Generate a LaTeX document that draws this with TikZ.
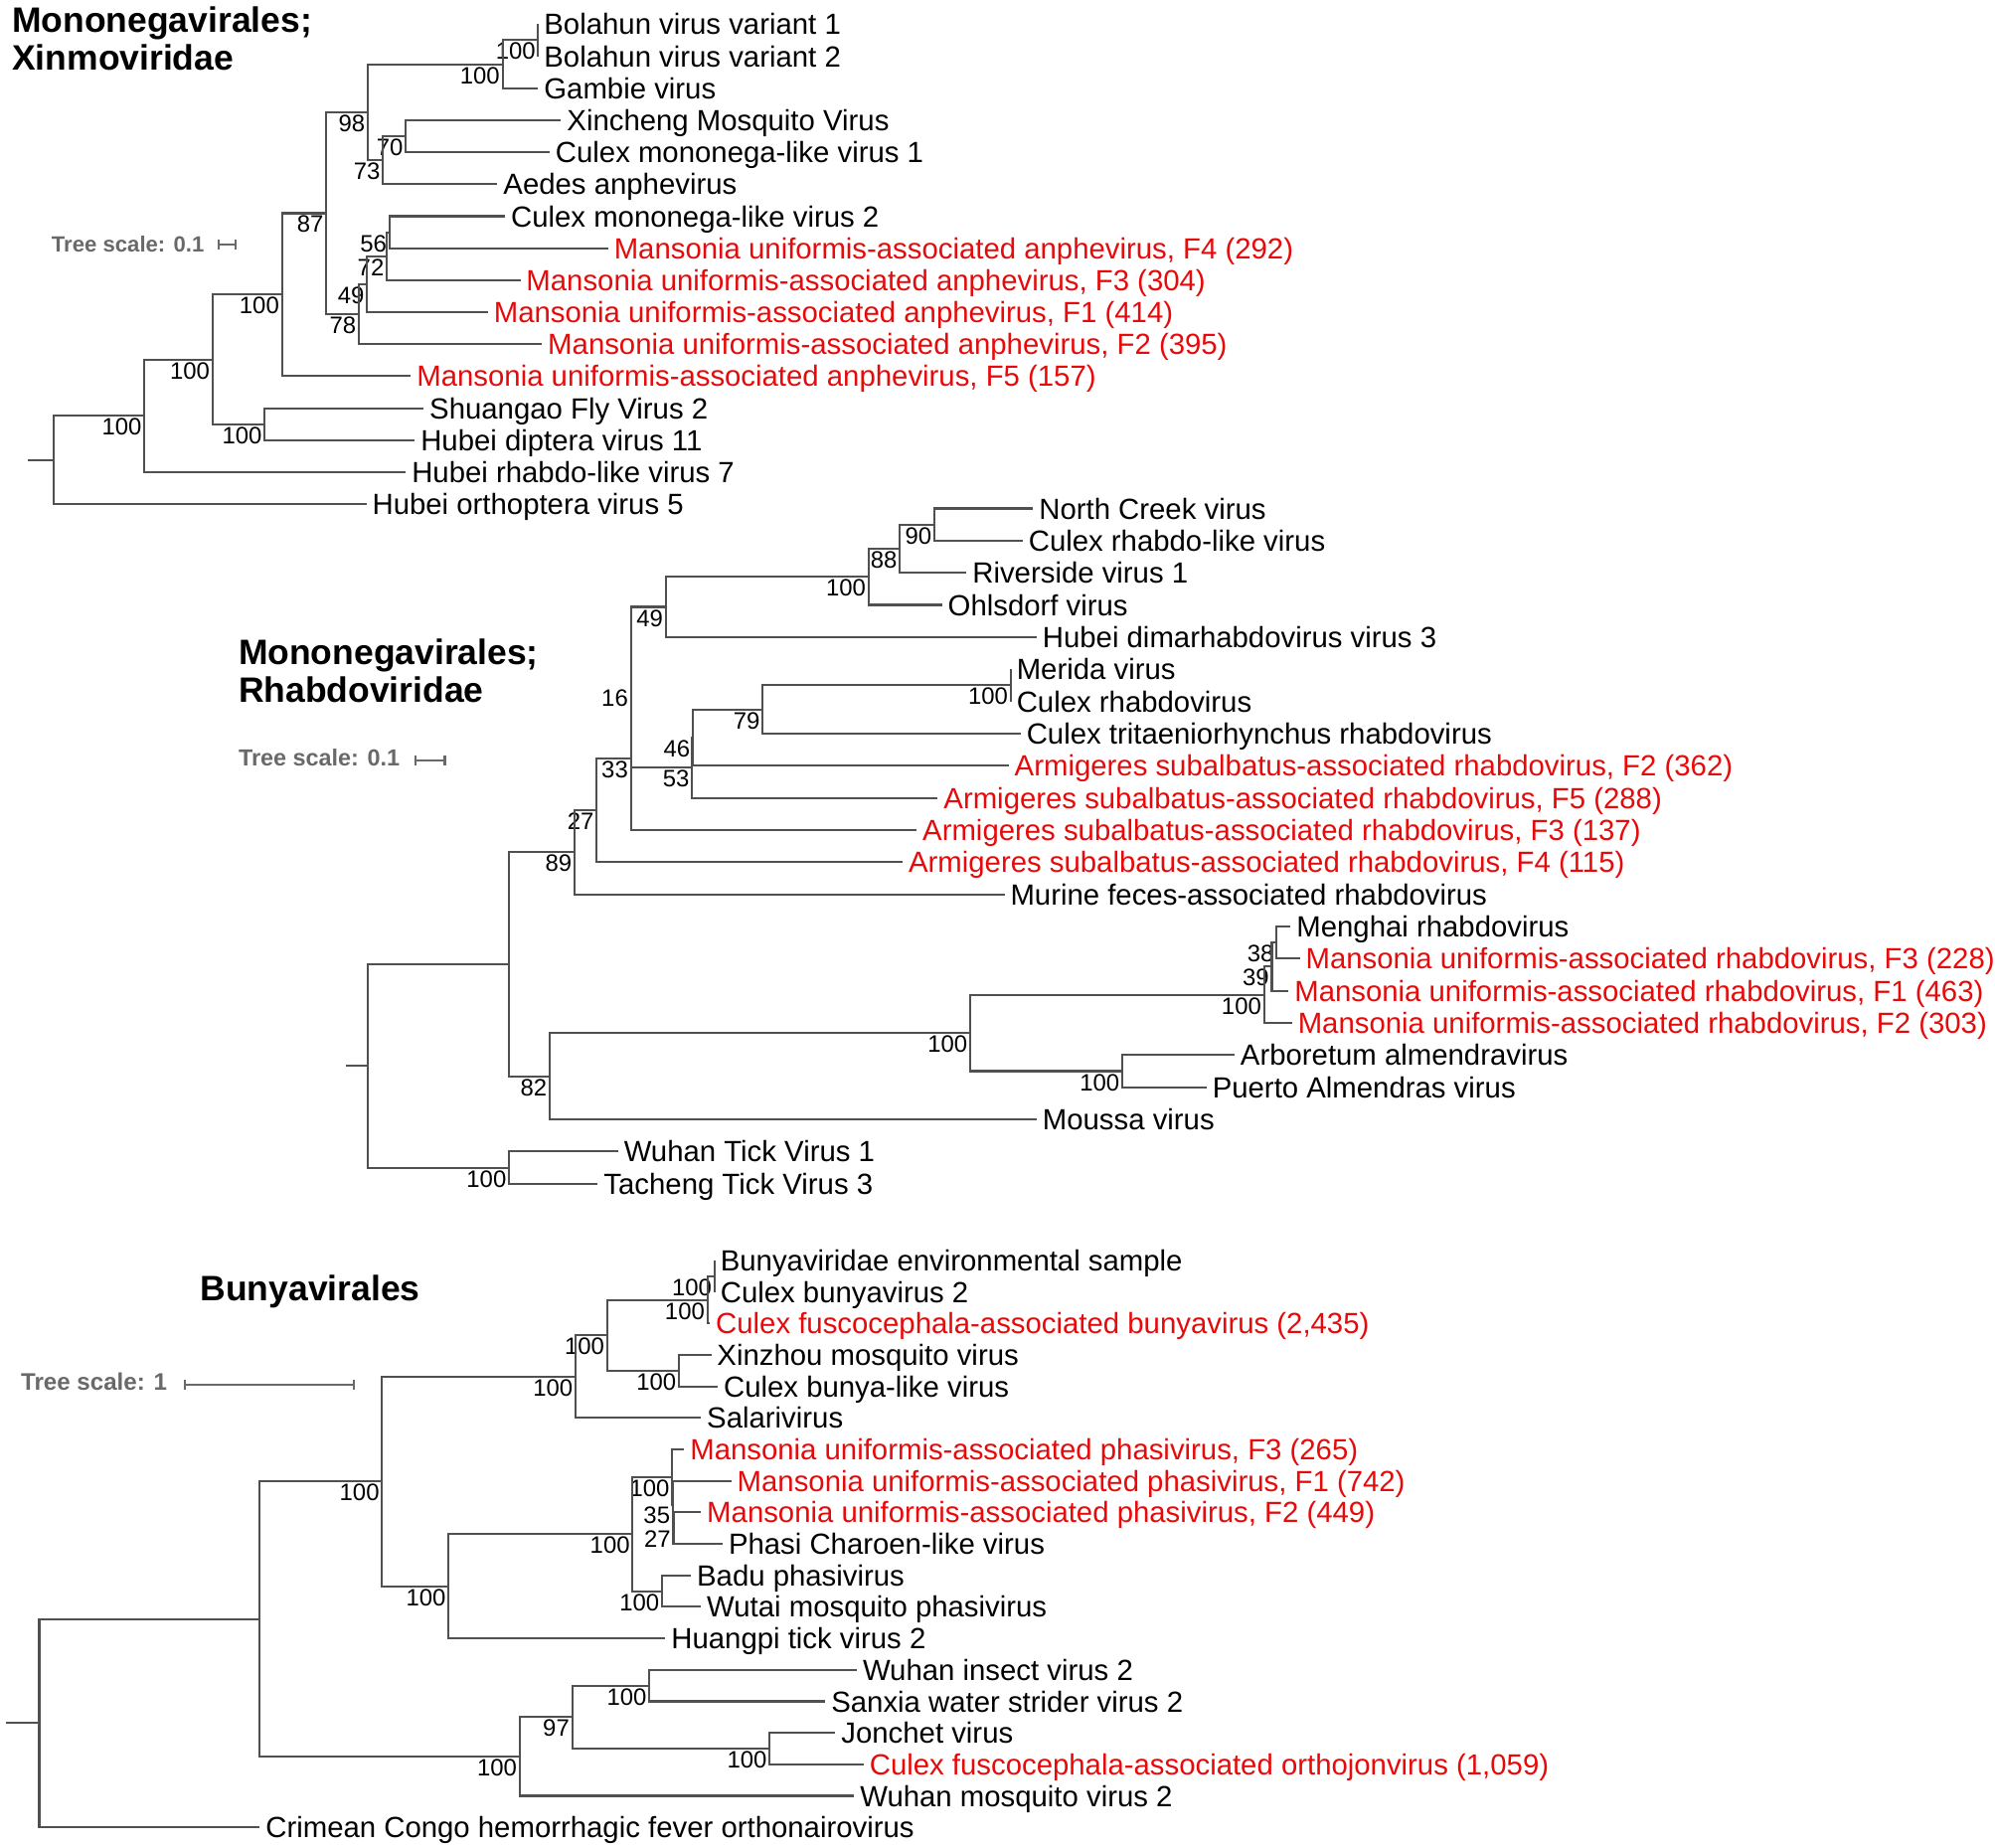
\documentclass[tikz,border=0pt]{standalone}
\usepackage{fontspec}
\setmainfont{Liberation Sans}
\usepackage{tikz}
\usetikzlibrary{calc,arrows.meta}
\definecolor{virusred}{RGB}{230,10,10}
\definecolor{branchgray}{RGB}{80,80,80}
\definecolor{scalegray}{RGB}{105,105,105}

\newcommand{\treejoin}[4]{%
  \path (#3) -- (#4) coordinate[pos=0.5] (#1m);
  \coordinate (#1) at (#1m -| #2,0);
  \draw[branch] (#3) -| (#1) |- (#4);}
\newcommand{\clade}[5]{%
  \treejoin{#1}{#2}{#3}{#4}
  \node[boot] (#1s) at (#1) {#5};}

\begin{document}
\begin{tikzpicture}[x=0.0128cm, y=-0.0128cm,
    branch/.style={draw=branchgray, line width=0.6pt},
    leaf/.style={anchor=west, inner sep=1.5pt, text height=6pt, text depth=0pt, font=\fontsize{8.35}{9}\selectfont},
    redleaf/.style={leaf, text=virusred},
    boot/.style={anchor=north east, inner sep=0.6pt, font=\fontsize{6.8}{7.5}\selectfont},
    clade title/.style={anchor=north west, align=left, inner sep=0pt, font=\bfseries\fontsize{10.1}{10.8}\selectfont},
    scale text/.style={anchor=west, inner sep=0pt, text=scalegray, font=\bfseries\fontsize{#1}{8}\selectfont},
    scale bar/.style={draw=scalegray, line width=0.6pt, {Bar[width=2.8pt]}-{Bar[width=2.8pt]}}]
    \useasboundingbox (0,0) rectangle (1568,1451.6);

    \node[clade title] (xtitle) at (9,4.5) {Mononegavirales;\\Xinmoviridae};
    \node[scale text=6.3] (xscale) at (40,191.5) {Tree scale: 0.1};
    \coordinate (xsa) at (171,192.5);
    \coordinate (xsb) at (186,192.5);
    \draw[scale bar] (xsa) -- (xsb);

    \node[leaf] (bol1) at (423,19) {Bolahun virus variant 1};
    \node[leaf] (bol2) at (423,44.15) {Bolahun virus variant 2};
    \node[leaf] (gambie) at (423,69.3) {Gambie virus};
    \node[leaf] (xincheng) at (441,94.45) {Xincheng Mosquito Virus};
    \node[leaf] (cmlv1) at (432,119.6) {Culex mononega-like virus 1};
    \node[leaf] (aedes) at (391,144.75) {Aedes anphevirus};
    \node[leaf] (cmlv2) at (397,169.9) {Culex mononega-like virus 2};
    \node[redleaf] (anphf4) at (478,195.05) {Mansonia uniformis-associated anphevirus, F4 (292)};
    \node[redleaf] (anphf3) at (409,220.2) {Mansonia uniformis-associated anphevirus, F3 (304)};
    \node[redleaf] (anphf1) at (383.5,245.35) {Mansonia uniformis-associated anphevirus, F1 (414)};
    \node[redleaf] (anphf2) at (426,270.5) {Mansonia uniformis-associated anphevirus, F2 (395)};
    \node[redleaf] (anphf5) at (323,295.65) {Mansonia uniformis-associated anphevirus, F5 (157)};
    \node[leaf] (shuangao) at (333,320.8) {Shuangao Fly Virus 2};
    \node[leaf] (hubeidip) at (326,345.95) {Hubei diptera virus 11};
    \node[leaf] (hubeirhab) at (319,371.1) {Hubei rhabdo-like virus 7};
    \node[leaf] (hubeiorth) at (288,396.25) {Hubei orthoptera virus 5};

    \clade{bolc}{423}{bol1.west}{bol2.west}{100}
    \clade{bolg}{395}{bolc}{gambie.west}{100}
    \clade{xc70}{319}{xincheng.west}{cmlv1.west}{70}
    \clade{xc73}{301}{xc70}{aedes.west}{73}
    \clade{xc98}{289}{bolg}{xc73}{98}
    \clade{an56}{306}{cmlv2.west}{anphf4.west}{56}
    \clade{an72}{304}{an56}{anphf3.west}{72}
    \clade{an49}{288.5}{an72}{anphf1.west}{49}
    \clade{an78}{282}{an49}{anphf2.west}{78}
    \clade{xn87}{256.5}{xc98}{an78}{87}
    \clade{xn100a}{221.6}{xn87}{anphf5.west}{100}
    \clade{shu}{208}{shuangao.west}{hubeidip.west}{100}
    \clade{xn100b}{167}{xn100a}{shu}{100}
    \clade{xn100c}{113.5}{xn100b}{hubeirhab.west}{100}
    \treejoin{xroot}{42}{xn100c}{hubeiorth.west}
    \coordinate (xstub) at ($(xroot)+(-20,0)$);
    \draw[branch] (xstub) -- (xroot);

    \node[clade title] (rtitle) at (187,502) {Mononegavirales;\\Rhabdoviridae};
    \node[scale text=6.66] (rscale) at (187,595.5) {Tree scale: 0.1};
    \coordinate (rsa) at (325.5,597.5);
    \coordinate (rsb) at (350.4,597.5);
    \draw[scale bar] (rsa) -- (rsb);

    \node[leaf] (ncreek) at (812,399.6) {North Creek virus};
    \node[leaf] (crlv) at (803.8,424.87) {Culex rhabdo-like virus};
    \node[leaf] (riverside) at (759.7,450.14) {Riverside virus 1};
    \node[leaf] (ohlsdorf) at (740.4,475.41) {Ohlsdorf virus};
    \node[leaf] (hubeidim) at (814.8,500.68) {Hubei dimarhabdovirus virus 3};
    \node[leaf] (merida) at (794.4,525.95) {Merida virus};
    \node[leaf] (crhab) at (794.4,551.22) {Culex rhabdovirus};
    \node[leaf] (ctrit) at (802.2,576.49) {Culex tritaeniorhynchus rhabdovirus};
    \node[redleaf] (armf2) at (792.8,601.76) {Armigeres subalbatus-associated rhabdovirus, F2 (362)};
    \node[redleaf] (armf5) at (737.1,627.03) {Armigeres subalbatus-associated rhabdovirus, F5 (288)};
    \node[redleaf] (armf3) at (720.5,652.3) {Armigeres subalbatus-associated rhabdovirus, F3 (137)};
    \node[redleaf] (armf4) at (709.5,677.57) {Armigeres subalbatus-associated rhabdovirus, F4 (115)};
    \node[leaf] (murine) at (789.5,702.84) {Murine feces-associated rhabdovirus};
    \node[leaf] (menghai) at (1014.4,728.11) {Menghai rhabdovirus};
    \node[redleaf] (mrhf3) at (1021.6,753.38) {Mansonia uniformis-associated rhabdovirus, F3 (228)};
    \node[redleaf] (mrhf1) at (1012.8,778.65) {Mansonia uniformis-associated rhabdovirus, F1 (463)};
    \node[redleaf] (mrhf2) at (1015.5,803.92) {Mansonia uniformis-associated rhabdovirus, F2 (303)};
    \node[leaf] (arboretum) at (970.3,829.19) {Arboretum almendravirus};
    \node[leaf] (puerto) at (948.3,854.46) {Puerto Almendras virus};
    \node[leaf] (moussa) at (814.8,879.73) {Moussa virus};
    \node[leaf] (wuhantick) at (485.8,905) {Wuhan Tick Virus 1};
    \node[leaf] (tacheng) at (469.9,930.27) {Tacheng Tick Virus 3};

    \clade{rh90}{734.3}{ncreek.west}{crlv.west}{90}
    \clade{rh88}{707.3}{rh90}{riverside.west}{88}
    \clade{rh100a}{682.6}{rh88}{ohlsdorf.west}{100}
    \clade{rh49}{523.2}{rh100a}{hubeidim.west}{49}
    \clade{mer}{794.4}{merida.west}{crhab.west}{100}
    \clade{rh79}{599.4}{mer}{ctrit.west}{79}
    \clade{rh46}{544.6}{rh79}{armf2.west}{46}
    \clade{rh53}{544}{rh46}{armf5.west}{53}
    \clade{rh16}{495.8}{rh49}{rh53}{16}
    \clade{rh33}{495.8}{rh16}{armf3.west}{33}
    \clade{rh27}{469}{rh33}{armf4.west}{27}
    \clade{rh89}{451.5}{rh27}{murine.west}{89}
    \clade{rh38}{1003.4}{menghai.west}{mrhf3.west}{38}
    \clade{rh39}{999.6}{rh38}{mrhf1.west}{39}
    \clade{rh100b}{993.5}{rh39}{mrhf2.west}{100}
    \clade{alm}{882.1}{arboretum.west}{puerto.west}{100}
    \clade{rh100c}{762.5}{rh100b}{alm}{100}
    \clade{rh82}{432}{rh100c}{moussa.west}{82}
    \treejoin{rhup}{400.1}{rh89}{rh82}
    \clade{tick}{400.1}{wuhantick.west}{tacheng.west}{100}
    \treejoin{rhroot}{289.1}{rhup}{tick}
    \coordinate (rstub) at ($(rhroot)+(-17.4,0)$);
    \draw[branch] (rstub) -- (rhroot);

    \node[clade title] (btitle) at (157,1002) {Bunyavirales};
    \node[scale text=6.86] (bscale) at (16,1086) {Tree scale: 1};
    \coordinate (bsa) at (144.4,1088);
    \coordinate (bsb) at (278.9,1088);
    \draw[scale bar] (bsa) -- (bsb);

    \node[leaf] (bunyenv) at (561.6,990.6) {Bunyaviridae environmental sample};
    \node[leaf] (cbv2) at (561.6,1015.35) {Culex bunyavirus 2};
    \node[redleaf] (cfbunya) at (558,1040.1) {Culex fuscocephala-associated bunyavirus (2,435)};
    \node[leaf] (xinzhou) at (559,1064.85) {Xinzhou mosquito virus};
    \node[leaf] (cblv) at (564.2,1089.6) {Culex bunya-like virus};
    \node[leaf] (salari) at (551,1114.35) {Salarivirus};
    \node[redleaf] (phasf3) at (537.8,1139.1) {Mansonia uniformis-associated phasivirus, F3 (265)};
    \node[redleaf] (phasf1) at (574.8,1163.85) {Mansonia uniformis-associated phasivirus, F1 (742)};
    \node[redleaf] (phasf2) at (551,1188.6) {Mansonia uniformis-associated phasivirus, F2 (449)};
    \node[leaf] (phasi) at (568,1213.35) {Phasi Charoen-like virus};
    \node[leaf] (badu) at (543.1,1238.1) {Badu phasivirus};
    \node[leaf] (wutai) at (551,1262.85) {Wutai mosquito phasivirus};
    \node[leaf] (huangpi) at (523,1287.6) {Huangpi tick virus 2};
    \node[leaf] (wuhanins) at (673.5,1312.35) {Wuhan insect virus 2};
    \node[leaf] (sanxia) at (648.7,1337.1) {Sanxia water strider virus 2};
    \node[leaf] (jonchet) at (656.6,1361.85) {Jonchet virus};
    \node[redleaf] (cfortho) at (678.8,1386.6) {Culex fuscocephala-associated orthojonvirus (1,059)};
    \node[leaf] (wuhanmos) at (671.4,1411.35) {Wuhan mosquito virus 2};
    \node[leaf] (crimean) at (204.2,1436.1) {Crimean Congo hemorrhagic fever orthonairovirus};

    \clade{cbunya}{561.6}{bunyenv.west}{cbv2.west}{100}
    \clade{cfb}{556}{cbunya}{cfbunya.west}{100}
    \clade{xzm}{533.6}{xinzhou.west}{cblv.west}{100}
    \clade{by100a}{477.1}{cfb}{xzm}{100}
    \clade{by100b}{452.3}{by100a}{salari.west}{100}
    \clade{ph27}{529.3}{phasf2.west}{phasi.west}{27}
    \clade{ph35}{528.8}{phasf1.west}{ph27}{35}
    \clade{ph100}{528.3}{phasf3.west}{ph35}{100}
    \clade{bad}{520.4}{badu.west}{wutai.west}{100}
    \clade{by100c}{497.2}{ph100}{bad}{100}
    \clade{by100d}{352.6}{by100c}{huangpi.west}{100}
    \clade{by100e}{300.3}{by100b}{by100d}{100}
    \clade{wis}{510.4}{wuhanins.west}{sanxia.west}{100}
    \clade{jon}{604.9}{jonchet.west}{cfortho.west}{100}
    \clade{by97}{449.7}{wis}{jon}{97}
    \clade{by100f}{408.4}{by97}{wuhanmos.west}{100}
    \treejoin{by100g}{204.2}{by100e}{by100f}
    \treejoin{byroot}{30.9}{by100g}{crimean.west}
    \coordinate (bstub) at ($(byroot)+(-26,0)$);
    \draw[branch] (bstub) -- (byroot);
\end{tikzpicture}
\end{document}
